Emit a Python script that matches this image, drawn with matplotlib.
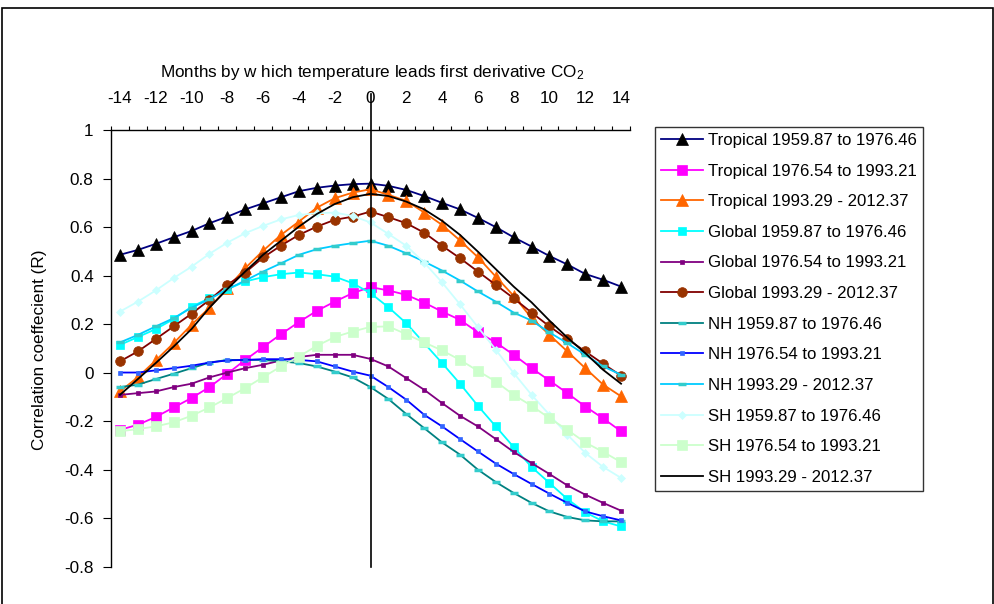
import matplotlib
matplotlib.use("Agg")
import matplotlib.pyplot as plt
from matplotlib.patches import Rectangle
import numpy as np

plt.rcParams["font.family"] = ["Liberation Sans", "DejaVu Sans"]
plt.rcParams["mathtext.fontset"] = "custom"
plt.rcParams["mathtext.rm"] = "Liberation Sans"
plt.rcParams["mathtext.it"] = "Liberation Sans"

# months by which temperature leads d(CO2)/dt
months = list(range(-14, 15))
tick_months = list(range(-14, 15, 2))
y_ticks = [1, 0.8, 0.6, 0.4, 0.2, 0, -0.2, -0.4, -0.6, -0.8]

trop_59 = [0.486, 0.506, 0.531, 0.558, 0.584, 0.616, 0.643, 0.673, 0.698, 0.723,
           0.748, 0.762, 0.771, 0.777, 0.779, 0.770, 0.753, 0.728, 0.700, 0.673,
           0.638, 0.600, 0.558, 0.520, 0.481, 0.446, 0.407, 0.383, 0.355]
trop_76 = [-0.235, -0.214, -0.182, -0.143, -0.104, -0.059, -0.004, 0.053, 0.106, 0.159,
           0.209, 0.255, 0.293, 0.328, 0.353, 0.339, 0.321, 0.289, 0.252, 0.218,
           0.167, 0.125, 0.074, 0.019, -0.032, -0.084, -0.139, -0.188, -0.241]
trop_93 = [-0.077, -0.018, 0.051, 0.122, 0.198, 0.268, 0.349, 0.431, 0.503, 0.568,
           0.623, 0.680, 0.719, 0.742, 0.756, 0.733, 0.708, 0.660, 0.609, 0.545,
           0.476, 0.396, 0.317, 0.225, 0.156, 0.088, 0.019, -0.049, -0.097]
glob_59 = [0.115, 0.147, 0.180, 0.221, 0.272, 0.307, 0.344, 0.376, 0.394, 0.406,
           0.413, 0.406, 0.396, 0.369, 0.328, 0.270, 0.204, 0.122, 0.040, -0.045,
           -0.136, -0.221, -0.306, -0.388, -0.454, -0.520, -0.575, -0.612, -0.633]
glob_76 = [-0.091, -0.084, -0.077, -0.059, -0.045, -0.019, 0.001, 0.019, 0.033, 0.051,
           0.065, 0.074, 0.074, 0.074, 0.057, 0.026, -0.022, -0.070, -0.125, -0.177,
           -0.221, -0.273, -0.326, -0.372, -0.417, -0.464, -0.502, -0.536, -0.568]
glob_93 = [0.047, 0.088, 0.139, 0.191, 0.243, 0.300, 0.362, 0.413, 0.475, 0.524,
           0.568, 0.602, 0.630, 0.643, 0.664, 0.641, 0.616, 0.577, 0.523, 0.472,
           0.417, 0.362, 0.307, 0.248, 0.191, 0.139, 0.088, 0.037, -0.012]
nh_59 = [-0.059, -0.049, -0.026, -0.004, 0.019, 0.042, 0.053, 0.053, 0.053, 0.047,
         0.040, 0.026, 0.005, -0.019, -0.059, -0.108, -0.170, -0.228, -0.287, -0.337,
         -0.399, -0.450, -0.495, -0.536, -0.571, -0.594, -0.608, -0.612, -0.612]
nh_76 = [0.001, 0.001, 0.010, 0.019, 0.029, 0.042, 0.051, 0.053, 0.056, 0.056,
         0.053, 0.047, 0.026, 0.005, -0.012, -0.059, -0.111, -0.173, -0.221, -0.273,
         -0.324, -0.374, -0.417, -0.458, -0.498, -0.536, -0.571, -0.591, -0.608]
nh_93 = [0.125, 0.156, 0.191, 0.225, 0.268, 0.303, 0.344, 0.380, 0.417, 0.451,
         0.486, 0.509, 0.523, 0.534, 0.544, 0.523, 0.492, 0.458, 0.421, 0.380,
         0.335, 0.293, 0.248, 0.215, 0.166, 0.122, 0.074, 0.026, -0.008]
sh_59 = [0.252, 0.293, 0.339, 0.390, 0.437, 0.490, 0.536, 0.575, 0.605, 0.632,
         0.650, 0.657, 0.660, 0.646, 0.619, 0.572, 0.523, 0.454, 0.372, 0.282,
         0.188, 0.095, -0.001, -0.091, -0.173, -0.255, -0.330, -0.388, -0.433]
sh_76 = [-0.241, -0.232, -0.221, -0.204, -0.177, -0.143, -0.104, -0.063, -0.018, 0.026,
         0.067, 0.111, 0.147, 0.170, 0.189, 0.191, 0.159, 0.125, 0.092, 0.053,
         0.008, -0.036, -0.091, -0.136, -0.187, -0.235, -0.287, -0.326, -0.368]
sh_93 = [-0.091, -0.026, 0.040, 0.108, 0.180, 0.268, 0.345, 0.417, 0.486, 0.544,
         0.602, 0.654, 0.695, 0.723, 0.737, 0.728, 0.705, 0.673, 0.626, 0.568,
         0.499, 0.427, 0.355, 0.290, 0.215, 0.145, 0.081, 0.012, -0.045]

# (label, values, line colour, marker, marker colour, marker size, marker edge width)
series = [
    ("Tropical 1959.87 to 1976.46", trop_59, "#000080", "^", "black", 8.0, 0.5),
    ("Tropical 1976.54 to 1993.21", trop_76, "#FF00FF", "s", "#FF00FF", 6.5, 0.5),
    ("Tropical 1993.29 - 2012.37", trop_93, "#FF6600", "^", "#FF6600", 8.0, 0.5),
    ("Global 1959.87 to 1976.46", glob_59, "#00FFFF", "s", "#00FFFF", 6.0, 0.5),
    ("Global 1976.54 to 1993.21", glob_76, "#800080", "s", "#800080", 2.5, 0.5),
    ("Global 1993.29 - 2012.37", glob_93, "#800000", "o", "#993300", 7.0, 0.5),
    ("NH 1959.87 to 1976.46", nh_59, "#008080", "_", "#33CCCC", 6.0, 2.5),
    ("NH 1976.54 to 1993.21", nh_76, "#0000FF", "s", "#3366FF", 2.8, 0.5),
    ("NH 1993.29 - 2012.37", nh_93, "#00CCFF", "_", "#33CCCC", 6.0, 2.5),
    ("SH 1959.87 to 1976.46", sh_59, "#CCFFFF", "D", "#CCFFFF", 4.0, 0.5),
    ("SH 1976.54 to 1993.21", sh_76, "#CCFFCC", "s", "#CCFFCC", 6.5, 0.5),
    ("SH 1993.29 - 2012.37", sh_93, "black", "", "black", 0, 0),
]

fig = plt.figure(figsize=(9.95, 6.04), dpi=100)
ax = fig.add_axes([111 / 995, 1 - 567 / 604, (630 - 111) / 995, (567 - 130) / 604])

for label, vals, lc, mk, mc, ms, mew in series:
    ax.plot(months, vals, color=lc, lw=1.3, marker=mk if mk else None,
            ms=ms, mfc=mc, mec=mc, mew=mew, label=label, clip_on=False)

# zero-lag reference line, running up through the top axis
ax.plot([0, 0], [-0.8, 1.148], color="black", lw=1.2, clip_on=False, zorder=5)

ax.set_xlim(-14.5, 14.5)
ax.set_ylim(-0.8, 1.0)

ax.spines["right"].set_visible(False)
ax.spines["bottom"].set_visible(False)
ax.spines["left"].set_linewidth(1.0)
ax.spines["top"].set_linewidth(1.0)

ax.xaxis.tick_top()
ax.set_xticks(tick_months)
ax.set_xticklabels([str(m) for m in tick_months])
ax.set_xticks(np.arange(-14.5, 15, 1), minor=True)
ax.tick_params(axis="x", which="major", length=0, pad=17, labelsize=12.3)
ax.tick_params(axis="x", which="minor", length=3, width=0.8, direction="out")

ax.set_yticks(y_ticks)
ax.set_yticklabels([f"{v:g}" for v in y_ticks])
ax.tick_params(axis="y", length=5.5, width=0.8, pad=7, labelsize=12.3)

fig.text(372 / 995, 1 - 72 / 604,
         "Months by w hich temperature leads first derivative CO$_2$",
         ha="center", va="center", fontsize=12.3)
fig.text(40 / 995, 1 - 350 / 604, "Correlation coeffecient (R)",
         rotation=90, ha="center", va="center", fontsize=12.3)

leg = ax.legend(loc="upper left", bbox_to_anchor=(655 / 995, 1 - 127 / 604),
                bbox_transform=fig.transFigure, fontsize=12.1, frameon=True,
                fancybox=False, borderaxespad=0, labelspacing=0.93,
                handlelength=2.5, handletextpad=0.3, borderpad=0.35,
                numpoints=1)
leg.get_frame().set_edgecolor("black")
leg.get_frame().set_linewidth(1.0)

# outer chart-area border
fig.patches.append(Rectangle((2 / 995, -0.01), 991 / 995, 1.01 - 8 / 604,
                             transform=fig.transFigure, fill=False,
                             edgecolor="black", lw=1.2))

fig.savefig("out.png", dpi=100)
